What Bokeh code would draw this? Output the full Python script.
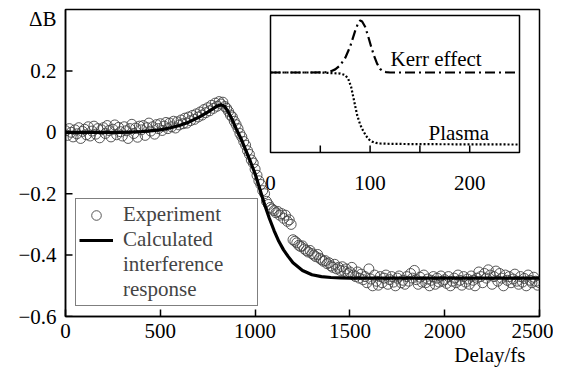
from bokeh.plotting import figure
from bokeh.models import (Range1d, FixedTicker, Legend, LegendItem, Title,
                          ColumnDataSource, CustomJSTickFormatter)
from bokeh.core.properties import value
from bokeh.embed import file_html
from bokeh.resources import INLINE

# ---------------- data ----------------
exp_t = list(range(0, 2510, 10))
exp_v = [
    0.005, -0.01, 0.012, 0.0, -0.015, 0.008, -0.005, 0.015, -0.02, 0.003,
    0.01, -0.008, 0.018, -0.012, 0.004, 0.02, -0.006, 0.012, -0.018, 0.008,
    0.015, -0.004, 0.022, 0.006, -0.015, 0.01, 0.024, -0.008, 0.016, 0.002,
    -0.012, 0.018, 0.005, -0.02, 0.012, 0.026, -0.004, 0.014, -0.016, 0.02,
    0.008, 0.022, -0.01, 0.015, 0.03, 0.004, 0.018, -0.006, 0.025, 0.012,
    0.028, 0.006, 0.02, 0.032, 0.012, 0.03, 0.018, 0.036, 0.014, 0.034,
    0.024, 0.04, 0.028, 0.046, 0.03, 0.05, 0.038, 0.055, 0.042, 0.06,
    0.05, 0.066, 0.056, 0.074, 0.064, 0.08, 0.07, 0.088, 0.078, 0.095,
    0.085, 0.1, 0.092, 0.098, 0.084, 0.078, 0.068, 0.056, 0.05, 0.036,
    0.025, 0.012, -0.004, -0.015, -0.03, -0.042, -0.06, -0.072, -0.09, -0.1,
    -0.12, -0.14, -0.158, -0.17, -0.19, -0.2, -0.225, -0.235, -0.245, -0.25,
    -0.255, -0.262, -0.258, -0.27, -0.265, -0.28, -0.27, -0.29, -0.285, -0.3,
    -0.35, -0.355, -0.36, -0.368, -0.372, -0.37, -0.38, -0.385, -0.39, -0.385,
    -0.395, -0.4, -0.405, -0.398, -0.41, -0.415, -0.42, -0.418, -0.428, -0.425,
    -0.435, -0.44, -0.43, -0.445, -0.44, -0.45, -0.438, -0.452, -0.445, -0.46,
    -0.455, -0.44, -0.465, -0.47, -0.455, -0.475, -0.462, -0.48, -0.47, -0.49,
    -0.445, -0.478, -0.5, -0.465, -0.485, -0.498, -0.47, -0.49, -0.475, -0.465,
    -0.495, -0.48, -0.47, -0.488, -0.5, -0.475, -0.468, -0.49, -0.482, -0.495,
    -0.47, -0.485, -0.46, -0.475, -0.45, -0.48, -0.495, -0.472, -0.488, -0.465,
    -0.49, -0.478, -0.5, -0.482, -0.47, -0.495, -0.475, -0.488, -0.468, -0.485,
    -0.48, -0.492, -0.47, -0.5, -0.485, -0.475, -0.49, -0.465, -0.482, -0.498,
    -0.47, -0.488, -0.478, -0.495, -0.468, -0.482, -0.5, -0.475, -0.455, -0.47,
    -0.49, -0.46, -0.475, -0.448, -0.465, -0.495, -0.47, -0.452, -0.485, -0.46,
    -0.475, -0.5, -0.465, -0.482, -0.47, -0.49, -0.478, -0.462, -0.485, -0.495,
    -0.47, -0.488, -0.476, -0.5, -0.465, -0.482, -0.49, -0.472, -0.485, -0.498,
    -0.49,
]

calc_t = [0, 100, 200, 300, 400, 500, 550, 600, 650, 700, 750, 780, 800, 820,
          840, 860, 880, 900, 925, 950, 975, 1000, 1025, 1050, 1075, 1100,
          1125, 1150, 1175, 1200, 1250, 1300, 1350, 1400, 1450, 1500, 2000, 2500]
calc_v = [0, 0, 0, 0, 0.002, 0.008, 0.014, 0.022, 0.033, 0.048, 0.066, 0.078,
          0.086, 0.09, 0.084, 0.065, 0.04, 0.012, -0.02, -0.057, -0.095, -0.135,
          -0.185, -0.235, -0.28, -0.32, -0.355, -0.383, -0.405, -0.425, -0.45,
          -0.464, -0.47, -0.473, -0.474, -0.475, -0.475, -0.475]

kerr_t = [0, 40, 55, 60, 65, 70, 75, 80, 85, 88, 90, 92, 95, 98, 101, 104,
          107, 110, 113, 116, 120, 250]
kerr_v = [0, 0, 0.005, 0.02, 0.06, 0.14, 0.28, 0.5, 0.8, 0.95, 1.0, 0.98,
          0.88, 0.7, 0.5, 0.32, 0.17, 0.07, 0.025, 0.008, 0, 0]

plasma_t = [0, 50, 70, 75, 78, 81, 84, 87, 90, 93, 96, 99, 102, 106, 110,
            120, 150, 250]
plasma_v = [0, 0, -0.02, -0.05, -0.12, -0.28, -0.55, -0.82, -1.0, -1.12,
            -1.22, -1.29, -1.33, -1.355, -1.365, -1.372, -1.378, -1.385]

x_ticks = [0, 500, 1000, 1500, 2000, 2500]
y_ticks = [-0.6, -0.4, -0.2, 0, 0.2]
y_title = "ΔB"
inset_ticks = [50, 100, 150, 200]
inset_tick_labels_at = [0, 100, 200]
inset_tick_labels = ["0", "100", "200"]

# ---------------- layout constants (canvas pixels) ----------------
FONT = "Liberation Serif"
FS = "21px"
W, H = 553, 372
FRAME_L, FRAME_R, FRAME_T, FRAME_B = 65, 539, 9, 316
Y_TITLE_PX = 18          # vertical centre of the y title
TICK_PX = 7
INSET_X0_PX, INSET_X250_PX = 270, 519
INSET_Y0_PX, INSET_PX_PER_UNIT = 72, 52.0
INSET_TOP_PX, INSET_BOT_PX = 15, 152

Y0, Y1 = -0.6, 0.4
y_per_px = (Y1 - Y0) / (FRAME_B - FRAME_T)
x_per_px = 2500.0 / (FRAME_R - FRAME_L)
y_title_at = Y1 - (Y_TITLE_PX - FRAME_T) * y_per_px

ix_scale = (INSET_X250_PX - INSET_X0_PX) / 250.0
ix_start = (FRAME_L - INSET_X0_PX) / ix_scale
ix_end = (FRAME_R - INSET_X0_PX) / ix_scale
iy_of = lambda py: (INSET_Y0_PX - py) / INSET_PX_PER_UNIT

p = figure(width=W, height=H, output_backend="svg", toolbar_location=None,
           x_range=Range1d(0, 2500), y_range=Range1d(Y0, Y1),
           min_border_left=FRAME_L, min_border_right=W - FRAME_R,
           min_border_top=FRAME_T, min_border_bottom=H - FRAME_B)
p.extra_x_ranges = {"ix": Range1d(ix_start, ix_end)}
p.extra_y_ranges = {"iy": Range1d(iy_of(FRAME_B), iy_of(FRAME_T))}

p.xgrid.visible = False
p.ygrid.visible = False
p.outline_line_color = "black"
p.outline_line_width = 1.5
p.background_fill_color = "white"
p.border_fill_color = "white"

for ax in (p.xaxis[0], p.yaxis[0]):
    ax.axis_line_width = 1.5
    ax.axis_line_color = "black"
    ax.major_tick_line_width = 1.5
    ax.major_tick_out = 0
    ax.minor_tick_in = 0
    ax.minor_tick_out = 0
    ax.major_label_text_font = FONT
    ax.major_label_text_font_size = FS
    ax.major_label_text_color = "black"
p.xaxis.major_tick_in = TICK_PX
p.yaxis.major_tick_in = 0          # y tick marks drawn below, so the title slot has none
p.xaxis.ticker = FixedTicker(ticks=x_ticks)
p.yaxis.ticker = FixedTicker(ticks=y_ticks + [y_title_at])
p.xaxis.major_label_standoff = 7
p.yaxis.major_label_standoff = 9
p.yaxis.formatter = CustomJSTickFormatter(args=dict(title=y_title, top=y_ticks[-1]), code="""
    if (tick > top + 1e-6) return title;
    if (Math.abs(tick) < 1e-9) return "0";
    return tick.toFixed(1).replace("-", "\u2212");
""")
p.segment(x0=[0] * len(y_ticks), x1=[TICK_PX * x_per_px] * len(y_ticks),
          y0=y_ticks, y1=y_ticks, line_color="black", line_width=1.5)

# ---------------- main data ----------------
exp_src = ColumnDataSource(dict(t=exp_t, v=exp_v))
calc_src = ColumnDataSource(dict(t=calc_t, v=calc_v))
r_exp = p.scatter("t", "v", source=exp_src, marker="circle", size=10,
                  fill_color=None, line_color="#444444", line_width=0.9)
r_calc = p.line("t", "v", source=calc_src, line_color="black", line_width=3.2)
r_dummy = p.line(x=[], y=[], line_alpha=0)

legend = Legend(items=[
    LegendItem(label="Experiment", renderers=[r_exp]),
    LegendItem(label="Calculated", renderers=[r_calc]),
    LegendItem(label="interference", renderers=[r_dummy]),
    LegendItem(label="response", renderers=[r_dummy]),
], location=(10, 10), label_text_font=FONT, label_text_font_size=FS,
    border_line_color="black", border_line_width=1.5, background_fill_alpha=1,
    padding=3, spacing=0, label_height=24, glyph_height=24, glyph_width=34,
    label_width=131, label_standoff=10, margin=0)
p.add_layout(legend)

# ---------------- inset ----------------
p.quad(left=[0], right=[250], bottom=[iy_of(INSET_BOT_PX)], top=[iy_of(INSET_TOP_PX)],
       x_range_name="ix", y_range_name="iy", fill_color="white",
       line_color="black", line_width=1.5)
tick_len = TICK_PX / INSET_PX_PER_UNIT
p.segment(x0=inset_ticks, x1=inset_ticks,
          y0=[iy_of(INSET_BOT_PX)] * len(inset_ticks),
          y1=[iy_of(INSET_BOT_PX) + tick_len] * len(inset_ticks),
          x_range_name="ix", y_range_name="iy", line_color="black", line_width=1.5)
p.text(x=inset_tick_labels_at, y=[iy_of(182)] * 3, text=inset_tick_labels,
       x_range_name="ix", y_range_name="iy", text_align="center",
       text_baseline="alphabetic", text_font=value(FONT), text_font_size=value(FS),
       text_color="black")
p.line(kerr_t, kerr_v, x_range_name="ix", y_range_name="iy", line_color="black",
       line_width=2.2, line_dash="10 4 2 4")
p.line(plasma_t, plasma_v, x_range_name="ix", y_range_name="iy", line_color="black",
       line_width=2.2, line_dash="2 2")
p.text(x=[(390 - INSET_X0_PX) / ix_scale], y=[iy_of(58)], text=["Kerr effect"],
       x_range_name="ix", y_range_name="iy", text_align="left",
       text_baseline="alphabetic", text_font=value(FONT), text_font_size=value(FS),
       text_color="black")
p.text(x=[(428 - INSET_X0_PX) / ix_scale], y=[iy_of(132)], text=["Plasma"],
       x_range_name="ix", y_range_name="iy", text_align="left",
       text_baseline="alphabetic", text_font=value(FONT), text_font_size=value(FS),
       text_color="black")

# ---------------- x title ----------------
p.add_layout(Title(text="Delay/fs", align="right", offset=14, standoff=0,
                   text_font=FONT, text_font_size=FS, text_font_style="normal",
                   text_color="black"), "below")

open("out.html", "w").write(file_html(p, INLINE))
